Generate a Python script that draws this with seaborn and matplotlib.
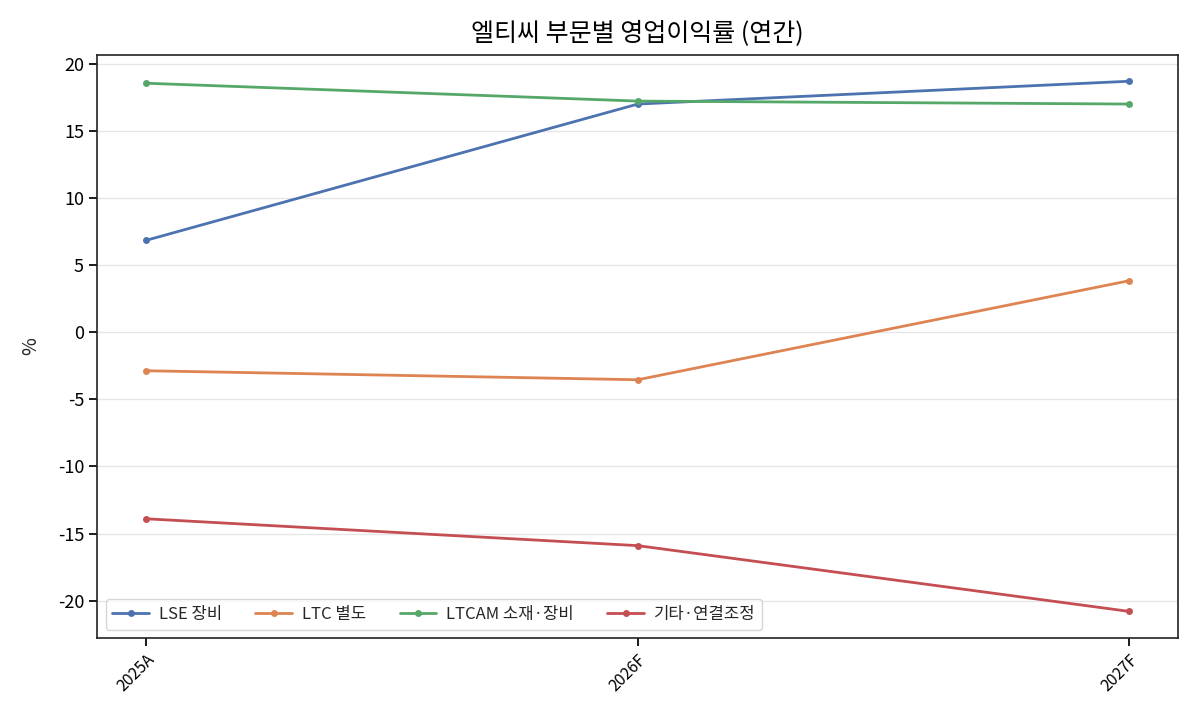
import numpy as np
import pandas as pd
import seaborn as sns
import matplotlib.pyplot as plt

# 데이터
periods = ['2025A', '2026F', '2027F']
lse = [6.85, 17.0, 18.7]
ltc = [-2.87, -3.54, 3.84]
ltcam = [18.55, 17.22, 17.0]
etc = [-13.9, -15.9, -20.8]
series_names = ['LSE 장비', 'LTC 별도', 'LTCAM 소재·장비', '기타·연결조정']

rows = []
for name, vals in zip(series_names, [lse, ltc, ltcam, etc]):
    for p, v in zip(periods, vals):
        rows.append({'기간': p, '부문': name, '값': v})
df = pd.DataFrame(rows)

sns.set_theme(style="ticks", palette="deep")
plt.rcParams['font.family'] = ['Noto Sans CJK KR', 'DejaVu Sans']
plt.rcParams['axes.unicode_minus'] = False

fig, ax = plt.subplots(figsize=(12, 7.2), dpi=100)
sns.lineplot(data=df, x='기간', y='값', hue='부문', marker='o', markersize=5,
             markeredgewidth=0, linewidth=2, sort=False, ax=ax)

ax.set_xlim(-0.1, len(periods) - 0.9)
ax.yaxis.grid(True, color='#e6e6e6', linewidth=1)
ax.set_axisbelow(True)
for s in ax.spines.values():
    s.set_color('#222222')
    s.set_linewidth(1.2)

ax.set_title('엘티씨 부문별 영업이익률 (연간)', fontsize=18, color='black', pad=10)
ax.set_xlabel('')
ax.set_ylabel('%', fontsize=14, labelpad=12)
ax.tick_params(axis='y', labelsize=13, colors='black')
ax.tick_params(axis='x', colors='black')
plt.setp(ax.get_xticklabels(), rotation=45, ha='right', rotation_mode='anchor', fontsize=11.5)

ax.legend(loc='lower left', ncol=4, fontsize=12, frameon=True, borderpad=0.4,
          columnspacing=2.0, handlelength=2.2, handletextpad=0.6)

fig.subplots_adjust(left=0.081, right=0.982, top=0.924, bottom=0.114)
fig.savefig('out.png', dpi=100)
